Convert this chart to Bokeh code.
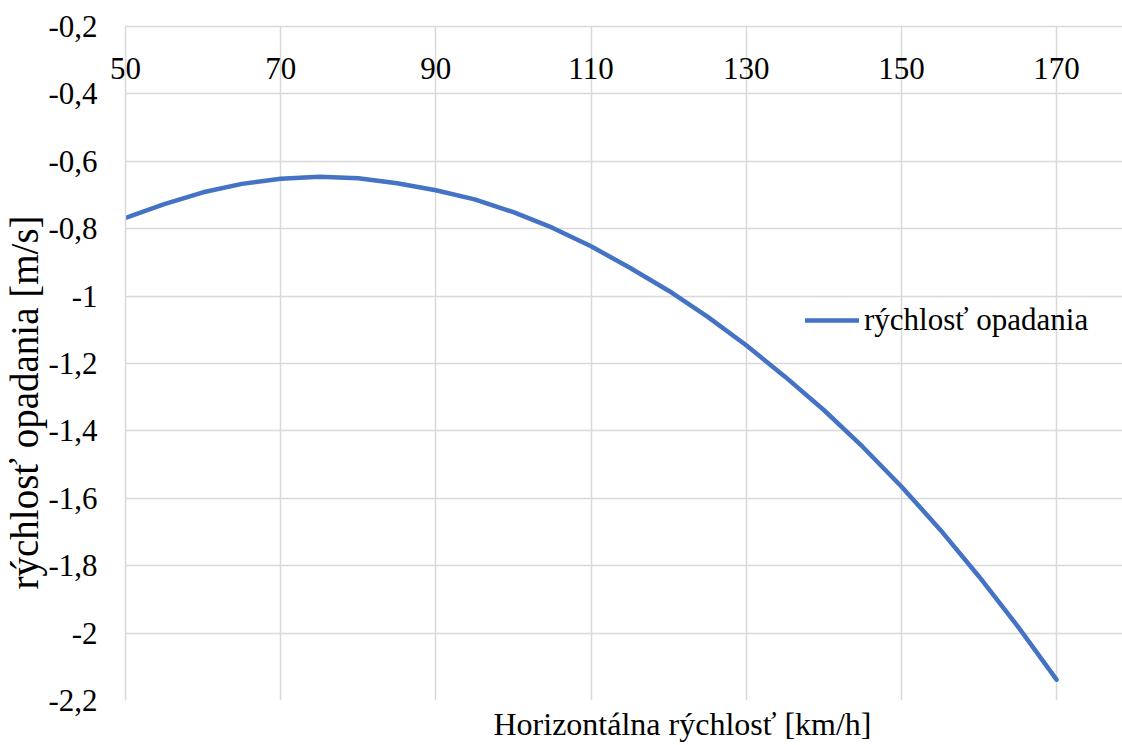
from bokeh.plotting import figure
from bokeh.embed import file_html
from bokeh.resources import INLINE
from bokeh.models import (FixedTicker, CustomJSTickFormatter, Legend, LegendItem,
                          Title, ColumnDataSource)

# ---- data ----
speed_kmh = [50, 55, 60, 65, 70, 75, 80, 85, 90, 95, 100, 105, 110, 115, 120,
             125, 130, 135, 140, 145, 150, 155, 160, 165, 170]
sink_rate = [-0.768, -0.727, -0.692, -0.667, -0.652, -0.646, -0.650, -0.665, -0.686,
             -0.713, -0.751, -0.797, -0.852, -0.916, -0.984, -1.061, -1.146, -1.239,
             -1.338, -1.447, -1.565, -1.693, -1.832, -1.980, -2.138]
series_name = "rýchlosť opadania"
x_ticks = [50, 70, 90, 110, 130, 150, 170]
y_ticks = [-2.2, -2.0, -1.8, -1.6, -1.4, -1.2, -1.0, -0.8, -0.6, -0.4, -0.2]
x_title = "Horizontálna rýchlosť [km/h]"
y_title = "rýchlosť opadania [m/s]"

FONT = "'Liberation Serif', 'Times New Roman', serif"
GRID = "#d9d9d9"
BLUE = "#4472C4"

p = figure(width=1122, height=745, x_range=(50, 178.5), y_range=(-2.2, -0.2),
           output_backend="svg", toolbar_location=None, x_axis_location="above",
           min_border_left=123, min_border_top=26, min_border_right=0,
           min_border_bottom=44)
p.outline_line_color = None
p.background_fill_color = "white"
p.border_fill_color = "white"

# grids
p.xgrid.ticker = FixedTicker(ticks=x_ticks)
p.ygrid.ticker = FixedTicker(ticks=y_ticks)
for g in (p.xgrid, p.ygrid):
    g.grid_line_color = GRID
    g.grid_line_width = 1.5

# x axis on top, labels hanging just below the axis line (inside the plot)
xa = p.xaxis[0]
xa.ticker = FixedTicker(ticks=x_ticks)
xa.major_tick_line_color = None
xa.minor_tick_line_color = None
xa.major_tick_out = 0
xa.major_tick_in = 0
xa.axis_line_color = GRID
xa.axis_line_width = 1.5
xa.major_label_standoff = -52
xa.major_label_text_font = FONT
xa.major_label_text_font_size = "31px"
xa.major_label_text_color = "black"

# y axis
ax = p.yaxis[0]
ax.ticker = FixedTicker(ticks=y_ticks)
ax.formatter = CustomJSTickFormatter(code="return String(Math.round(tick*10)/10).replace('.', ',');")
ax.major_tick_line_color = None
ax.minor_tick_line_color = None
ax.major_tick_out = 0
ax.major_tick_in = 0
ax.axis_line_color = GRID
ax.axis_line_width = 1.5
ax.major_label_standoff = 28
ax.major_label_text_font = FONT
ax.major_label_text_font_size = "31px"
ax.major_label_text_color = "black"

# series
src = ColumnDataSource(dict(x=speed_kmh, y=sink_rate))
r = p.line("x", "y", source=src, line_color=BLUE, line_width=4.5,
           line_join="round", line_cap="round")

legend = Legend(items=[LegendItem(label=series_name, renderers=[r])],
                location=(680, 362), orientation="vertical",
                glyph_width=54, glyph_height=20, label_standoff=5,
                padding=0, margin=0, spacing=0,
                label_text_font=FONT, label_text_font_size="31px",
                label_text_color="black",
                background_fill_alpha=0, border_line_alpha=0)
p.add_layout(legend, "center")

# axis titles
p.add_layout(Title(text=x_title, align="left", offset=368, text_font=FONT,
                   text_font_size="32px", text_font_style="normal",
                   text_color="black", standoff=7), "below")
p.add_layout(Title(text=y_title, align="left", offset=111, text_font=FONT,
                   text_font_size="39px", text_font_style="normal",
                   text_color="black", standoff=0), "left")

open("out.html", "w").write(file_html(p, INLINE))
